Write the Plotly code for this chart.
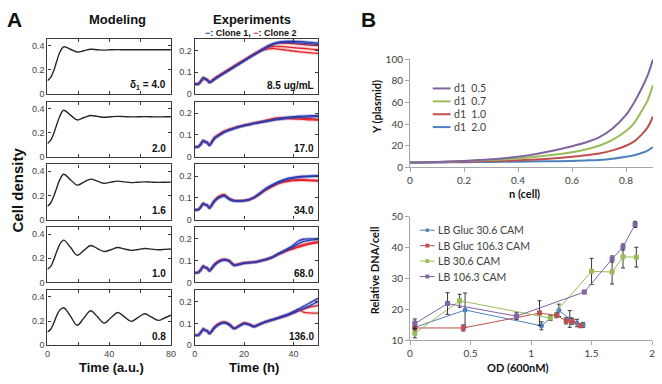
import plotly.graph_objects as go

W, H = 662, 384

# ---------------- Panel A : modeling ----------------
T_MODEL = [0, 2, 4, 6, 8, 10.5, 14.9, 19.25, 23.6, 28, 32.4, 36.75, 41.1, 45.5, 49.9,
           54.25, 58.6, 63, 67.4, 71.75, 76.1, 80]
MODEL_D40 = [0.11, 0.135, 0.19, 0.27, 0.345, 0.39, 0.37, 0.347, 0.358, 0.37, 0.366, 0.363,
             0.366, 0.367, 0.366, 0.366, 0.366, 0.366, 0.366, 0.366, 0.366, 0.366]
MODEL_D20 = [0.11, 0.135, 0.19, 0.265, 0.335, 0.385, 0.345, 0.305, 0.325, 0.342, 0.334, 0.327,
             0.331, 0.334, 0.332, 0.33, 0.331, 0.332, 0.331, 0.33, 0.331, 0.331]
MODEL_D16 = [0.11, 0.135, 0.19, 0.262, 0.33, 0.375, 0.33, 0.285, 0.31, 0.335, 0.318, 0.3,
             0.31, 0.318, 0.312, 0.306, 0.309, 0.312, 0.31, 0.308, 0.309, 0.31]
MODEL_D10 = [0.11, 0.13, 0.185, 0.255, 0.315, 0.35, 0.29, 0.225, 0.265, 0.305, 0.28, 0.255,
             0.27, 0.288, 0.276, 0.265, 0.272, 0.28, 0.275, 0.27, 0.273, 0.276]
MODEL_D08 = [0.11, 0.13, 0.18, 0.245, 0.29, 0.31, 0.24, 0.165, 0.225, 0.285, 0.235, 0.183,
             0.227, 0.27, 0.234, 0.197, 0.228, 0.26, 0.232, 0.205, 0.227, 0.248]
MODEL_LABELS = ["δ<sub>1</sub> = 4.0", "2.0", "1.6", "1.0", "0.8"]

# ---------------- Panel A : experiments ----------------
T_EXP = [0, 1.5, 2.5, 3.5, 4.3, 5, 6, 8, 10, 12, 14, 16, 18, 20, 22, 24, 26, 28, 30,
         32, 34, 36, 38, 40, 42, 44, 46, 48, 50]
EARLY = [0.045, 0.046, 0.058, 0.074, 0.068, 0.066, 0.053]

P1_BLUE1 = EARLY + [0.068, 0.083, 0.097, 0.111, 0.125, 0.139, 0.153, 0.167, 0.181, 0.195, 0.209,
                    0.222, 0.232, 0.238, 0.241, 0.242, 0.242, 0.241, 0.24, 0.238, 0.236, 0.234]
P1_BLUE2 = EARLY + [0.066, 0.081, 0.095, 0.109, 0.123, 0.137, 0.151, 0.165, 0.179, 0.192, 0.205,
                    0.218, 0.228, 0.234, 0.236, 0.237, 0.236, 0.235, 0.233, 0.231, 0.229, 0.227]
P1_RED1 = EARLY + [0.07, 0.085, 0.099, 0.113, 0.127, 0.141, 0.155, 0.169, 0.183, 0.196, 0.21,
                   0.222, 0.23, 0.234, 0.234, 0.233, 0.231, 0.229, 0.227, 0.225, 0.223, 0.222]
P1_RED2 = EARLY + [0.069, 0.084, 0.098, 0.112, 0.126, 0.14, 0.154, 0.168, 0.182, 0.196, 0.207,
                   0.215, 0.218, 0.218, 0.217, 0.215, 0.213, 0.211, 0.209, 0.207, 0.205, 0.203]
P1_RED3 = EARLY + [0.07, 0.085, 0.1, 0.114, 0.128, 0.142, 0.156, 0.17, 0.182, 0.193, 0.202,
                   0.207, 0.208, 0.206, 0.203, 0.2, 0.197, 0.194, 0.192, 0.19, 0.188, 0.186]

P2_BLUE1 = EARLY + [0.085, 0.1, 0.114, 0.123, 0.131, 0.138, 0.144, 0.149, 0.154, 0.158, 0.162,
                    0.166, 0.171, 0.175, 0.179, 0.182, 0.184, 0.186, 0.187, 0.188, 0.189, 0.19]
P2_BLUE2 = EARLY + [0.083, 0.098, 0.112, 0.121, 0.129, 0.136, 0.142, 0.147, 0.152, 0.156, 0.16,
                    0.164, 0.168, 0.171, 0.174, 0.177, 0.179, 0.181, 0.182, 0.183, 0.184, 0.184]
P2_RED1 = EARLY + [0.088, 0.104, 0.118, 0.126, 0.133, 0.139, 0.145, 0.15, 0.155, 0.16, 0.165,
                   0.171, 0.176, 0.179, 0.18, 0.18, 0.18, 0.179, 0.178, 0.176, 0.174, 0.172]
P2_RED2 = EARLY + [0.087, 0.103, 0.116, 0.125, 0.132, 0.138, 0.143, 0.148, 0.153, 0.157, 0.162,
                   0.167, 0.171, 0.174, 0.175, 0.175, 0.174, 0.173, 0.172, 0.17, 0.169, 0.168]

P3_BLUE1 = EARLY + [0.085, 0.103, 0.11, 0.095, 0.086, 0.086, 0.087, 0.092, 0.102, 0.118, 0.136,
                    0.151, 0.163, 0.174, 0.183, 0.19, 0.194, 0.197, 0.199, 0.2, 0.201, 0.202]
P3_BLUE2 = EARLY + [0.083, 0.1, 0.108, 0.093, 0.085, 0.085, 0.086, 0.09, 0.1, 0.115, 0.132,
                    0.147, 0.159, 0.17, 0.179, 0.186, 0.19, 0.193, 0.195, 0.197, 0.198, 0.199]
P3_RED1 = EARLY + [0.088, 0.108, 0.114, 0.097, 0.088, 0.087, 0.088, 0.092, 0.101, 0.115, 0.131,
                   0.145, 0.157, 0.168, 0.175, 0.179, 0.182, 0.183, 0.183, 0.182, 0.181, 0.18]
P3_RED2 = EARLY + [0.087, 0.106, 0.113, 0.096, 0.087, 0.086, 0.087, 0.091, 0.1, 0.114, 0.13,
                   0.143, 0.155, 0.165, 0.172, 0.176, 0.179, 0.18, 0.18, 0.179, 0.178, 0.177]

P4_BLUE1 = EARLY + [0.08, 0.097, 0.104, 0.098, 0.078, 0.083, 0.088, 0.091, 0.093, 0.097, 0.103,
                    0.11, 0.12, 0.133, 0.145, 0.157, 0.172, 0.19, 0.198, 0.2, 0.2, 0.201]
P4_BLUE2 = EARLY + [0.078, 0.095, 0.102, 0.096, 0.077, 0.082, 0.087, 0.09, 0.092, 0.096, 0.102,
                    0.109, 0.118, 0.13, 0.141, 0.152, 0.164, 0.177, 0.187, 0.192, 0.195, 0.197]
P4_RED1 = EARLY + [0.083, 0.1, 0.106, 0.1, 0.08, 0.085, 0.09, 0.092, 0.093, 0.097, 0.103,
                   0.11, 0.119, 0.131, 0.141, 0.15, 0.158, 0.166, 0.173, 0.179, 0.184, 0.187]
P4_RED2 = EARLY + [0.082, 0.099, 0.105, 0.099, 0.079, 0.084, 0.089, 0.091, 0.092, 0.096, 0.102,
                   0.108, 0.117, 0.128, 0.138, 0.147, 0.154, 0.162, 0.168, 0.174, 0.179, 0.183]

P5_BLUE1 = EARLY + [0.08, 0.097, 0.104, 0.095, 0.076, 0.088, 0.1, 0.095, 0.085, 0.095, 0.105,
                    0.113, 0.12, 0.128, 0.136, 0.144, 0.154, 0.166, 0.178, 0.19, 0.203, 0.215]
P5_BLUE2 = EARLY + [0.078, 0.095, 0.102, 0.093, 0.075, 0.087, 0.098, 0.093, 0.084, 0.093, 0.103,
                    0.11, 0.117, 0.124, 0.131, 0.139, 0.148, 0.158, 0.168, 0.178, 0.189, 0.2]
P5_RED1 = EARLY + [0.083, 0.1, 0.106, 0.097, 0.078, 0.09, 0.102, 0.097, 0.087, 0.096, 0.105,
                   0.112, 0.118, 0.125, 0.132, 0.139, 0.148, 0.157, 0.165, 0.172, 0.178, 0.183]
P5_RED2 = EARLY + [0.082, 0.099, 0.105, 0.096, 0.077, 0.089, 0.101, 0.096, 0.086, 0.095, 0.104,
                   0.111, 0.117, 0.124, 0.131, 0.14, 0.152, 0.164, 0.152, 0.148, 0.147, 0.147]
EXP_LABELS = ["8.5 ug/mL", "17.0", "34.0", "68.0", "136.0"]

# ---------------- Panel B (top) ----------------
N_CELL = [0, 0.1, 0.2, 0.3, 0.4, 0.5, 0.6, 0.65, 0.7, 0.75, 0.8, 0.83, 0.86, 0.88, 0.9]
Y_D05 = [4.5, 5.0, 6.0, 7.5, 9.8, 14.0, 19.6, 23.0, 27.7, 36.0, 48.5, 60.0, 74.0, 85.0, 100.0]
Y_D07 = [4.5, 5.0, 5.8, 6.8, 8.3, 10.7, 14.0, 16.5, 20.0, 25.5, 33.6, 41.0, 53.0, 62.0, 76.0]
Y_D10 = [4.5, 4.8, 5.3, 5.8, 6.5, 7.8, 9.8, 11.2, 12.8, 15.7, 20.0, 24.0, 31.0, 37.0, 47.0]
Y_D20 = [4.5, 4.6, 4.8, 5.0, 5.2, 5.6, 6.0, 6.4, 6.9, 8.0, 9.8, 11.2, 13.5, 15.5, 18.8]
B_TOP_NAMES = ["d1\u00a0 0.5", "d1\u00a0 0.7", "d1\u00a0 1.0", "d1\u00a0 2.0"]

# ---------------- Panel B (bottom) ----------------
OD_GLUC306 = [0.04, 0.455, 1.086, 1.23, 1.32, 1.38, 1.43]
DNA_GLUC306 = [14.2, 19.8, 14.7, 19.7, 16.9, 15.6, 15.0]
ERR_GLUC306 = [2.0, 5.5, 1.3, 2.0, 2.7, 1.2, 0.8]
OD_GLUC1063 = [0.04, 0.44, 1.07, 1.21, 1.29, 1.34, 1.41]
DNA_GLUC1063 = [14.0, 14.0, 18.8, 18.1, 16.3, 16.2, 14.7]
ERR_GLUC1063 = [1.0, 1.0, 4.0, 0.8, 1.0, 1.0, 0.5]
OD_LB306 = [0.04, 0.41, 1.16, 1.50, 1.67, 1.76, 1.87]
DNA_LB306 = [12.3, 22.8, 17.2, 32.3, 32.1, 37.0, 36.9]
ERR_LB306 = [1.5, 2.1, 0.8, 4.2, 3.9, 3.6, 3.2]
OD_LB1063 = [0.04, 0.31, 0.88, 1.44, 1.67, 1.76, 1.86]
DNA_LB1063 = [15.4, 21.9, 17.8, 25.6, 36.3, 40.2, 47.5]
ERR_LB1063 = [1.5, 3.5, 1.1, 0.5, 1.0, 1.0, 1.0]
B_BOT_NAMES = ["LB Gluc 30.6 CAM", "LB Gluc 106.3 CAM", "LB 30.6 CAM", "LB 106.3 CAM"]

# ---------------- styling ----------------
FONT_A = "Liberation Sans, Arial, sans-serif"
FONT_B = "Lato, Open Sans, sans-serif"
BLUE_A, RED_A = "#2b3cb0", "#e2262c"
C_PURPLE, C_GREEN, C_RED, C_BLUE = "#8064A2", "#9BBB59", "#C0504D", "#4F81BD"
AX_A = "#3a3a3a"


def dx(p0, p1):
    return [p0 / W, p1 / W]


def dy(top, bot):
    return [1 - bot / H, 1 - top / H]


ROW_TOPS = [33, 98, 163, 228, 293]
ROW_H = 57

fig = go.Figure()
layout = dict(width=W, height=H, margin=dict(l=0, r=0, t=0, b=0),
              paper_bgcolor="white", plot_bgcolor="white", showlegend=False)
annotations = []
shapes = []

model_series = [MODEL_D40, MODEL_D20, MODEL_D16, MODEL_D10, MODEL_D08]
exp_series = [
    ([P1_BLUE1, P1_BLUE2], [P1_RED1, P1_RED2, P1_RED3]),
    ([P2_BLUE1, P2_BLUE2], [P2_RED1, P2_RED2]),
    ([P3_BLUE1, P3_BLUE2], [P3_RED1, P3_RED2]),
    ([P4_BLUE1, P4_BLUE2], [P4_RED1, P4_RED2]),
    ([P5_BLUE1, P5_BLUE2], [P5_RED1, P5_RED2]),
]


def a_axis(**kw):
    d = dict(showline=True, mirror="ticks", linecolor=AX_A, linewidth=1.3,
             ticks="inside", ticklen=3, tickcolor=AX_A, tickwidth=1,
             showgrid=False, zeroline=False, fixedrange=True,
             tickfont=dict(size=9, color="#444", family=FONT_A))
    d.update(kw)
    return d


for i in range(5):
    top = ROW_TOPS[i]
    bot = top + ROW_H
    last = (i == 4)
    ia = 2 * i + 1
    ib = 2 * i + 2
    sa = str(ia) if ia > 1 else ""
    layout["xaxis" + sa] = a_axis(
        domain=dx(45, 170), range=[0, 80], anchor="y" + sa,
        tickvals=[0, 40, 80], ticktext=["0", "40", "80"],
        minor=dict(tickvals=[20, 60], ticks="inside", ticklen=3, tickcolor=AX_A),
        showticklabels=last)
    layout["yaxis" + sa] = a_axis(
        domain=dy(top, bot), range=[0, 0.456], anchor="x" + sa,
        tickvals=[0, 0.2, 0.4], ticktext=["0", "0.2", "0.4"])
    layout["xaxis" + str(ib)] = a_axis(
        domain=dx(194, 319), range=[0, 50], anchor="y" + str(ib),
        tickvals=[0, 20, 40], ticktext=["0", "20", "40"], showticklabels=last)
    layout["yaxis" + str(ib)] = a_axis(
        domain=dy(top, bot), range=[0, 0.253], anchor="x" + str(ib),
        tickvals=[0, 0.1, 0.2], ticktext=["0", "0.1", "0.2"])

    fig.add_trace(go.Scatter(x=T_MODEL, y=model_series[i], mode="lines",
                             line=dict(color="#262626", width=1.4, shape="spline", smoothing=1),
                             xaxis="x" + sa, yaxis="y" + sa, hoverinfo="skip"))
    blues, reds = exp_series[i]
    for series, col in ((reds, RED_A), (blues, BLUE_A)):
        for s in series:
            fig.add_trace(go.Scatter(x=T_EXP, y=s, mode="lines",
                                     line=dict(color=col, width=3.4, shape="spline", smoothing=0.6),
                                     opacity=0.22, xaxis="x" + str(ib), yaxis="y" + str(ib),
                                     hoverinfo="skip"))
            fig.add_trace(go.Scatter(x=T_EXP, y=s, mode="lines",
                                     line=dict(color=col, width=1.3, shape="spline", smoothing=0.6),
                                     xaxis="x" + str(ib), yaxis="y" + str(ib), hoverinfo="skip"))

    annotations.append(dict(x=167 / W, y=1 - (bot - 9) / H, xref="paper", yref="paper",
                            text="<b>" + MODEL_LABELS[i] + "</b>", showarrow=False,
                            xanchor="right", yanchor="middle",
                            font=dict(size=10, color="#111", family=FONT_A)))
    annotations.append(dict(x=317 / W, y=1 - (bot - 9) / H, xref="paper", yref="paper",
                            text="<b>" + EXP_LABELS[i] + "</b>", showarrow=False,
                            xanchor="right", yanchor="middle",
                            font=dict(size=10, color="#111", family=FONT_A)))

# ---------------- Panel B axes ----------------
b_axis = dict(showline=True, linecolor="#a6a6a6", linewidth=1, ticks="outside",
              ticklen=4, tickcolor="#a6a6a6", showgrid=False, zeroline=False,
              fixedrange=True, tickfont=dict(size=10, color="#404040", family=FONT_B))
layout["xaxis11"] = dict(b_axis, domain=dx(412, 658), range=[0, 0.9], anchor="y11",
                         tickvals=[0, 0.2, 0.4, 0.6, 0.8])
layout["yaxis11"] = dict(b_axis, domain=dy(54, 166), range=[0, 100], anchor="x11",
                         tickvals=[0, 20, 40, 60, 80, 100])
layout["xaxis12"] = dict(b_axis, domain=dx(412, 657), range=[0, 2], anchor="y12",
                         tickvals=[0, 0.5, 1, 1.5, 2], ticktext=["0", "0.5", "1", "1.5", "2"])
layout["yaxis12"] = dict(b_axis, domain=dy(217, 345), range=[10, 50], anchor="x12",
                         tickvals=[10, 20, 30, 40, 50])

top_series = [(Y_D05, C_PURPLE), (Y_D07, C_GREEN), (Y_D10, C_RED), (Y_D20, C_BLUE)]
for ys, col in reversed(top_series):
    fig.add_trace(go.Scatter(x=N_CELL, y=ys, mode="lines",
                             line=dict(color=col, width=2, shape="spline", smoothing=0.8),
                             xaxis="x11", yaxis="y11", hoverinfo="skip", cliponaxis=False))

bot_series = [
    (OD_GLUC306, DNA_GLUC306, ERR_GLUC306, C_BLUE, "circle"),
    (OD_GLUC1063, DNA_GLUC1063, ERR_GLUC1063, C_RED, "square"),
    (OD_LB306, DNA_LB306, ERR_LB306, C_GREEN, "square"),
    (OD_LB1063, DNA_LB1063, ERR_LB1063, C_PURPLE, "square"),
]
for xs, ys, es, col, sym in bot_series:
    fig.add_trace(go.Scatter(x=xs, y=ys, mode="lines+markers",
                             line=dict(color=col, width=1),
                             marker=dict(color=col, size=5, symbol=sym),
                             error_y=dict(type="data", array=es, visible=True,
                                          color="#222", thickness=0.9, width=2),
                             xaxis="x12", yaxis="y12", hoverinfo="skip"))

# ---------------- manual legends (Panel B) ----------------
top_leg_y = [84.3, 97.7, 111, 124.3]
for (ys, col), name, py in zip(top_series, B_TOP_NAMES, top_leg_y):
    shapes.append(dict(type="line", xref="paper", yref="paper",
                       x0=435 / W, x1=453 / W, y0=1 - py / H, y1=1 - py / H,
                       line=dict(color=col, width=2)))
    annotations.append(dict(x=454 / W, y=1 - py / H, xref="paper", yref="paper",
                            text=name, showarrow=False, xanchor="left", yanchor="middle",
                            font=dict(size=10.5, color="#404040", family=FONT_B)))
bot_leg_y = [231, 247, 263, 279]
for (xs, ys, es, col, sym), name, py in zip(bot_series, B_BOT_NAMES, bot_leg_y):
    shapes.append(dict(type="line", xref="paper", yref="paper",
                       x0=422 / W, x1=437 / W, y0=1 - py / H, y1=1 - py / H,
                       line=dict(color=col, width=1)))
    shapes.append(dict(type="rect" if sym == "square" else "circle", xref="paper", yref="paper",
                       x0=427.5 / W, x1=431.5 / W, y0=1 - (py + 2) / H, y1=1 - (py - 2) / H,
                       line=dict(color=col, width=0), fillcolor=col))
    annotations.append(dict(x=438 / W, y=1 - py / H, xref="paper", yref="paper",
                            text=name, showarrow=False, xanchor="left", yanchor="middle",
                            font=dict(size=10.5, color="#404040", family=FONT_B)))


# ---------------- titles / labels ----------------
def txt(px, py, text, size, family, angle=0, color="#111"):
    annotations.append(dict(x=px / W, y=1 - py / H, xref="paper", yref="paper",
                            text=text, showarrow=False, xanchor="center", yanchor="middle",
                            textangle=angle, font=dict(size=size, color=color, family=family)))


txt(12, 13, "<b>A</b>", 21, FONT_A)
txt(370, 13, "<b>B</b>", 21, FONT_A)
txt(116, 13, "<b>Modeling</b>", 13, FONT_A)
txt(252, 13, "<b>Experiments</b>", 13, FONT_A)
txt(251, 27, "<b><span style='color:%s'>\u2212</span>: Clone 1, "
             "<span style='color:%s'>\u2212</span>: Clone 2</b>" % (BLUE_A, RED_A), 9, FONT_A)
txt(15, 189, "<b>Cell density</b>", 15, FONT_A, angle=-90)
txt(110, 373, "<b>Time (a.u.)</b>", 13, FONT_A)
txt(254, 373, "<b>Time (h)</b>", 13, FONT_A)
txt(378, 103, "<b>Y (plasmid)</b>", 11, FONT_B, angle=-90)
txt(528, 193, "<b>n (cell)</b>", 11, FONT_B)
txt(376, 272, "<b>Relative DNA/cell</b>", 11, FONT_B, angle=-90)
txt(521, 373, "<b>OD (600nM)</b>", 11, FONT_B)

layout["annotations"] = annotations
layout["shapes"] = shapes
fig.update_layout(**layout)
fig.write_html("out.html", config={"displayModeBar": False},
               post_script="document.body.style.margin='0';document.body.style.overflow='hidden';")
